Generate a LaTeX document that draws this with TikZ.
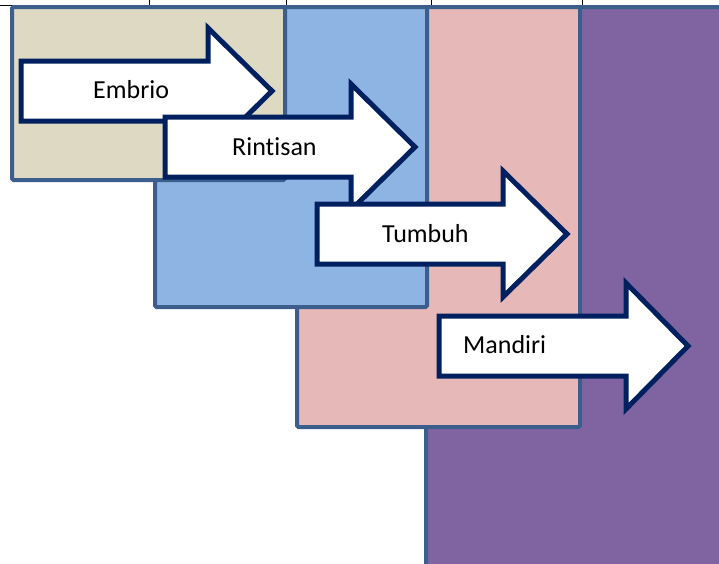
\documentclass[tikz,border=0pt]{standalone}
\usepackage{fontspec}
\setmainfont[Ligatures=NoCommon]{Carlito}

\definecolor{embriofill}{HTML}{DDD9C3}
\definecolor{rintisanfill}{HTML}{8EB4E3}
\definecolor{tumbuhfill}{HTML}{E6B9B8}
\definecolor{mandirifill}{HTML}{8064A2}
\definecolor{stageedge}{HTML}{3C5E8C}
\definecolor{arrownavy}{HTML}{002060}

\tikzset{
  stagebox/.style={draw=stageedge, line width=4pt, rounded corners=1.5pt},
  arrowbox/.style={fill=white, draw=arrownavy, line width=5pt, line join=miter},
  stagelabel/.style={anchor=base west, inner sep=0pt, font=\fontsize{26}{31}\selectfont}
}

% arrow: left end, middle height, head start, tip
\newcommand{\stagearrow}[4]{%
  \draw[arrowbox] (#1,#2-30) -- (#3,#2-30) -- (#3,#2-63) -- (#4,#2)
    -- (#3,#2+63) -- (#3,#2+30) -- (#1,#2+30) -- cycle;}

\begin{document}
\begin{tikzpicture}[x=1pt,y=-1pt]
    \useasboundingbox (0,0) rectangle (719,563);
    \clip (0,0) rectangle (719,563);

    % Table rule along the top
    \draw[black, line width=0.8pt] (0,5.5) -- (719,5.5);
    \foreach \tx in {149,286,431,582}
        \draw[black, line width=0.8pt] (\tx,0) -- (\tx,5.5);

    % Stage panels, back to front
    \draw[stagebox, fill=mandirifill] (426,7) rectangle (740,580);
    \draw[stagebox, fill=tumbuhfill] (297,7) rectangle (580,427);
    \draw[stagebox, fill=rintisanfill] (155,7) rectangle (427,307);
    \draw[stagebox, fill=embriofill] (12,7) rectangle (285,180);

    % Embrio
    \stagearrow{21}{91}{208}{272}
    \node[stagelabel] (embrio) at (93,98) {Embrio};

    % Rintisan
    \stagearrow{165}{147}{351}{415}
    \node[stagelabel] (rintisan) at (232,155) {Rintisan};

    % Tumbuh
    \stagearrow{317}{234}{503}{567}
    \node[stagelabel] (tumbuh) at (382,242) {Tumbuh};

    % Mandiri
    \stagearrow{439}{346}{626}{688}
    \node[stagelabel] (mandiri) at (463,353) {Mandiri};
\end{tikzpicture}
\end{document}
